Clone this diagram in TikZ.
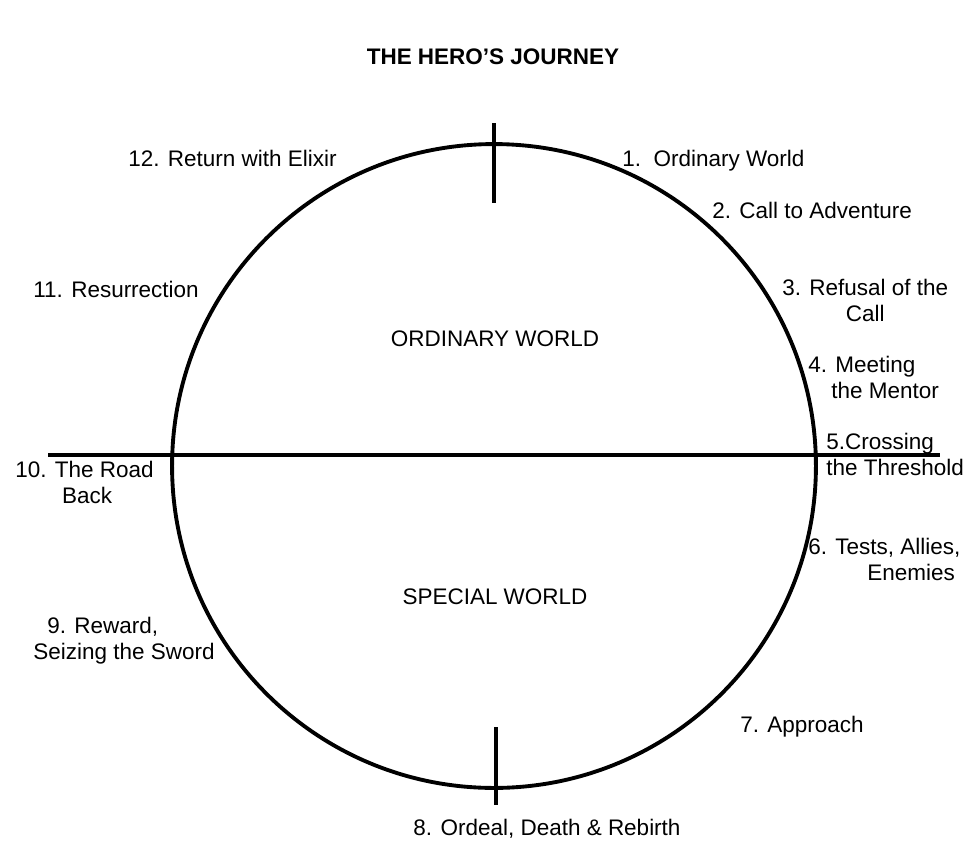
\documentclass[tikz,border=0pt]{standalone}
\usepackage{fontspec}
\setmainfont{Liberation Sans}
\usepackage{tikz}
\usetikzlibrary{positioning}

\begin{document}
\begin{tikzpicture}[
    x=0.02cm, y=-0.02cm,
    stage/.style={inner sep=0pt, anchor=north west, font=\fontsize{12.8}{14.7}\selectfont},
    world/.style={inner sep=0pt, font=\fontsize{12.8}{14.7}\selectfont},
    bar/.style={line width=2.2pt}
]
\useasboundingbox (0,0) rectangle (975,840);

% Title
\node[world, font=\fontsize{12.8}{14.7}\selectfont\bfseries] (title) at (493,57) {THE HERO'S JOURNEY};

% Circle and dividers
\node[circle, draw, line width=2.2pt, minimum size=12.88cm, inner sep=0pt] (journey) at (494,466) {};
\coordinate (west end) at (48,455);
\coordinate (east end) at (940,455);
\coordinate (top in) at (494,203);
\coordinate (top out) at (494,123);
\coordinate (bottom in) at (496,727);
\coordinate (bottom out) at (496,805);

\draw[bar] (west end) -- (east end);
\draw[bar] (top out) -- (top in);
\draw[bar] (bottom in) -- (bottom out);

% The two worlds
\node[world] (ordinary) at (495,339) {ORDINARY WORLD};
\node[world] (special) at (495,597) {SPECIAL WORLD};

% Stages
\node[stage] (s1) at (622,150) {1.~~Ordinary World};
\node[stage] (s2) at (712,202) {2. Call to Adventure};
\node[stage, align=center] (s3) at (782,279) {3. Refusal of the\\Call};
\node[stage, align=left] (s4) at (808,356) {4. Meeting\\\hspace*{0.46cm}the Mentor};
\node[stage, align=left] (s5) at (826,433) {5.Crossing\\the Threshold};
\node[stage, align=left] (s6) at (808,538) {6. Tests, Allies,\\\hspace*{1.18cm}Enemies};
\node[stage] (s7) at (740,716) {7. Approach};
\node[stage, anchor=north] (s8) at (547,819) {8. Ordeal, Death \& Rebirth};
\node[stage, align=left] (s9) at (33,617) {\hspace*{0.28cm}9. Reward,\\Seizing the Sword};
\node[stage, align=center] (s10) at (15,461) {10. The Road\\\hspace*{0.1cm}Back};
\node[stage] (s11) at (33,281) {11. Resurrection};
\node[stage] (s12) at (128,150) {12. Return with Elixir};

\end{tikzpicture}
\end{document}
